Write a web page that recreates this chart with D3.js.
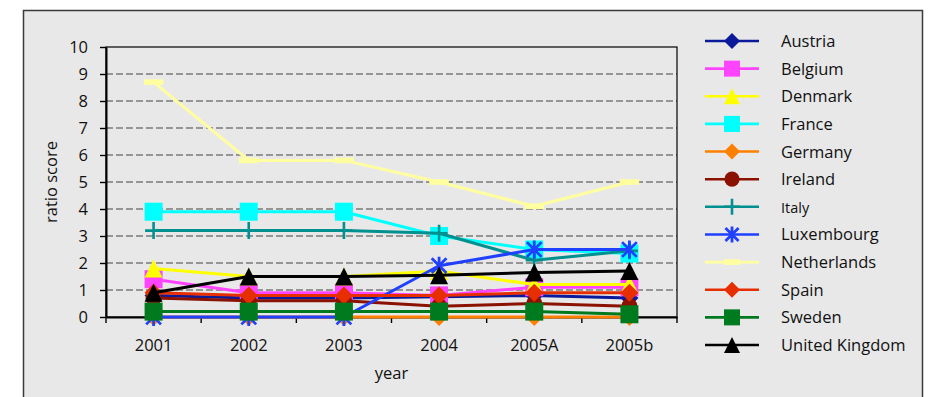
<!DOCTYPE html>
<html>
<head>
<meta charset="utf-8">
<script src="https://cdn.jsdelivr.net/npm/d3@7"></script>
<style>
  html, body { margin: 0; padding: 0; background: #ffffff; }
  svg { display: block; font-family: "Open Sans", "DejaVu Sans", sans-serif; }
</style>
</head>
<body>
<svg id="chart" width="929" height="397"></svg>
<script>
// Categories on the x axis
const years = ["2001", "2002", "2003", "2004", "2005A", "2005b"];
const yTicks = [0, 1, 2, 3, 4, 5, 6, 7, 8, 9, 10];

// Ratio scores per country
const austria     = [0.8, 0.7, 0.7, 0.75, 0.8, 0.7];
const belgium     = [1.4, 0.9, 0.9, 0.8, 1.1, 1.1];
const denmark     = [1.8, 1.5, 1.5, 1.7, 1.2, 1.2];
const france      = [3.9, 3.9, 3.9, 3.0, 2.5, 2.35];
const germany     = [0, 0, 0, 0, 0, 0];
const ireland     = [0.7, 0.6, 0.6, 0.4, 0.5, 0.4];
const italy       = [3.2, 3.2, 3.2, 3.1, 2.1, 2.45];
const luxembourg  = [0, 0, 0, 1.9, 2.5, 2.5];
const netherlands = [8.7, 5.8, 5.8, 5.0, 4.1, 5.0];
const spain       = [0.9, 0.8, 0.8, 0.8, 0.9, 0.9];
const sweden      = [0.2, 0.2, 0.2, 0.2, 0.2, 0.1];
const uk          = [0.9, 1.5, 1.5, 1.55, 1.65, 1.7];

const seriesNames = ["Austria", "Belgium", "Denmark", "France", "Germany", "Ireland",
  "Italy", "Luxembourg", "Netherlands", "Spain", "Sweden", "United Kingdom"];
const seriesValues = [austria, belgium, denmark, france, germany, ireland,
  italy, luxembourg, netherlands, spain, sweden, uk];
const seriesColors = ["#0a1a9a", "#ff44ff", "#ffff00", "#00ffff", "#ff8000", "#8b1200",
  "#009090", "#2040ff", "#ffffa0", "#e62e00", "#007a1e", "#000000"];
const seriesMarkers = ["diamond", "square", "triangle", "square", "diamond", "circle",
  "plus", "star", "bar", "diamond", "square", "triangle"];

const svg = d3.select("#chart");
const fontSize = 16.5;

// Panel background
svg.append("rect")
  .attr("x", 23.5).attr("y", 10.5)
  .attr("width", 899).attr("height", 400)
  .attr("fill", "#e8e8e8")
  .attr("stroke", "#3a3a3a").attr("stroke-width", 1.5);

const plot = { left: 106, right: 677, top: 47, bottom: 317 };

const x = d3.scaleBand().domain(years).range([plot.left, plot.right]).padding(0);
const y = d3.scaleLinear().domain([0, 10]).range([plot.bottom, plot.top]);
const cx = d => x(d) + x.bandwidth() / 2;

// Dashed gridlines
svg.append("g").selectAll("line")
  .data(yTicks.filter(t => t > 0 && t < 10))
  .join("line")
  .attr("x1", plot.left).attr("x2", plot.right)
  .attr("y1", d => y(d)).attr("y2", d => y(d))
  .attr("stroke", "#7a7a7a").attr("stroke-width", 1.4)
  .attr("stroke-dasharray", "7,3");

// Plot frame
svg.append("rect")
  .attr("x", plot.left).attr("y", plot.top)
  .attr("width", plot.right - plot.left).attr("height", plot.bottom - plot.top)
  .attr("fill", "none").attr("stroke", "#000").attr("stroke-width", 1.2);

// Y axis
const yAxis = svg.append("g")
  .attr("transform", `translate(${plot.left},0)`)
  .call(d3.axisLeft(y).tickValues(yTicks).tickSize(6).tickSizeOuter(0).tickPadding(12));
yAxis.select(".domain").attr("stroke", "#000").attr("stroke-width", 2);
yAxis.selectAll(".tick line").attr("stroke", "#000").attr("stroke-width", 1.4);
yAxis.selectAll(".tick text").attr("font-size", fontSize).attr("fill", "#111")
  .attr("font-family", "Open Sans, sans-serif");

// X axis: labels centred in bands, ticks on band edges
const xAxis = svg.append("g")
  .attr("transform", `translate(0,${plot.bottom})`)
  .call(d3.axisBottom(x).tickSize(0).tickPadding(22).tickSizeOuter(0));
xAxis.select(".domain").attr("stroke", "#000").attr("stroke-width", 2);
xAxis.selectAll(".tick text").attr("font-size", fontSize).attr("fill", "#111")
  .attr("font-family", "Open Sans, sans-serif");
svg.append("g").selectAll("line")
  .data(years.map(d => x(d)).concat([plot.right]))
  .join("line")
  .attr("x1", d => d).attr("x2", d => d)
  .attr("y1", plot.bottom).attr("y2", plot.bottom + 6)
  .attr("stroke", "#000").attr("stroke-width", 1.4);

// Axis titles
svg.append("text")
  .attr("x", (plot.left + plot.right) / 2).attr("y", 379)
  .attr("text-anchor", "middle").attr("font-size", fontSize).attr("fill", "#111")
  .text("year");
svg.append("text")
  .attr("transform", `translate(57,${(plot.top + plot.bottom) / 2}) rotate(-90)`)
  .attr("text-anchor", "middle").attr("font-size", fontSize).attr("fill", "#111")
  .text("ratio score");

// Marker drawing
function drawMarker(g, type, color, px, py, s) {
  const h = s / 2;
  if (type === "square") {
    g.append("rect").attr("x", px - h).attr("y", py - h).attr("width", s).attr("height", s)
      .attr("fill", color);
  } else if (type === "diamond") {
    g.append("path").attr("d", `M${px},${py - h}L${px + h},${py}L${px},${py + h}L${px - h},${py}Z`)
      .attr("fill", color);
  } else if (type === "triangle") {
    g.append("path").attr("d", `M${px},${py - h}L${px + h},${py + h}L${px - h},${py + h}Z`)
      .attr("fill", color);
  } else if (type === "circle") {
    g.append("circle").attr("cx", px).attr("cy", py).attr("r", h * 0.95).attr("fill", color);
  } else if (type === "plus") {
    g.append("path").attr("d", `M${px},${py - h}V${py + h}M${px - h},${py}H${px + h}`)
      .attr("stroke", color).attr("stroke-width", 2.6).attr("fill", "none");
  } else if (type === "star") {
    const d = h * 0.82;
    g.append("path")
      .attr("d", `M${px},${py - h}V${py + h}M${px - d},${py - d}L${px + d},${py + d}M${px - d},${py + d}L${px + d},${py - d}`)
      .attr("stroke", color).attr("stroke-width", 2.8).attr("fill", "none");
  } else if (type === "bar") {
    g.append("rect").attr("x", px - s * 0.54).attr("y", py - 2.8).attr("width", s * 1.08).attr("height", 5.6)
      .attr("fill", color);
  }
}

const markerSize = { square: 18, diamond: 18, triangle: 18, circle: 17, plus: 17, star: 18, bar: 18 };

// Series: line then markers, in order
const lineGen = d3.line().x(d => cx(d.year)).y(d => y(d.value));
seriesNames.forEach((name, i) => {
  const pts = years.map((yr, j) => ({ year: yr, value: seriesValues[i][j] }));
  const g = svg.append("g").attr("class", "series");
  g.append("path").datum(pts).attr("d", lineGen)
    .attr("fill", "none").attr("stroke", seriesColors[i]).attr("stroke-width", 3)
    .attr("stroke-linejoin", "round");
  pts.forEach(p => drawMarker(g, seriesMarkers[i], seriesColors[i], cx(p.year), y(p.value),
    markerSize[seriesMarkers[i]]));
});

// Legend
const legend = svg.append("g");
const legendY = d3.scalePoint().domain(seriesNames).range([41, 345]);
seriesNames.forEach((name, i) => {
  const ly = legendY(name);
  const g = legend.append("g");
  g.append("line").attr("x1", 705).attr("x2", 759).attr("y1", ly).attr("y2", ly)
    .attr("stroke", seriesColors[i]).attr("stroke-width", 2.6);
  drawMarker(g, seriesMarkers[i], seriesColors[i], 732, ly, seriesMarkers[i] === "bar" ? 15 : 16);
  g.append("text").attr("x", 781).attr("y", ly + 6)
    .attr("font-size", name === "Italy" ? 14.5 : fontSize).attr("fill", "#111")
    .text(name);
});
</script>
</body>
</html>
